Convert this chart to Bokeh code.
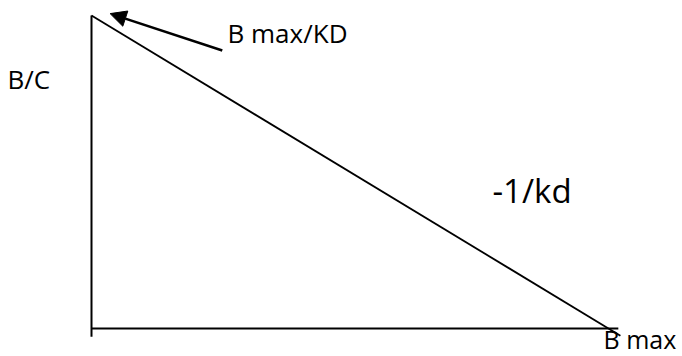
from bokeh.plotting import figure
from bokeh.models import Range1d, Arrow, NormalHead, Label
from bokeh.embed import file_html
from bokeh.resources import INLINE

# Scatchard plot: B/C against B, a straight line falling from Bmax/KD to Bmax
bmax = 1.0            # x-intercept (B max)
bmax_over_kd = 1.0    # y-intercept (B max/KD)
slope = -bmax_over_kd / bmax   # -1/kd
overshoot = 0.023     # the line runs a little past the x-axis

axis_labels = ["B/C", "B max"]
note_labels = ["B max/KD", "-1/kd"]

# pixel scale of the drawing: origin at (91, 328), 517 px per unit in x, 313 px per unit in y
X0, Y0, SX, SY = 91, 328, 517, 313


def px(xp, yp):
    return (xp - X0) / SX, (Y0 - yp) / SY


p = figure(width=682, height=356, output_backend="svg", toolbar_location=None,
           x_range=Range1d(-X0 / SX, (682 - X0) / SX),
           y_range=Range1d(-(356 - Y0) / SY, Y0 / SY),
           min_border=0, x_axis_location=None, y_axis_location=None)
p.outline_line_color = None
p.xgrid.visible = False
p.ygrid.visible = False
p.background_fill_color = "white"
p.border_fill_color = "white"

# axes drawn as plain lines
p.line([0, 0], [bmax_over_kd, -0.026], line_color="black", line_width=2)
p.line([0, bmax * 1.019], [0, 0], line_color="black", line_width=2)

# binding line
x_end = bmax * (1 + overshoot)
p.line([0, x_end], [bmax_over_kd, bmax_over_kd + slope * x_end],
       line_color="black", line_width=1.8)

# arrow pointing at the y-intercept
p.add_layout(Arrow(end=NormalHead(size=16, fill_color="black", line_color="black"),
                   x_start=0.253, y_start=0.888, x_end=0.036, y_end=bmax_over_kd * 1.006,
                   line_color="black", line_width=2.5))

font = "Open Sans"


def label(text, xp, yp, size):
    x, y = px(xp, yp)
    p.add_layout(Label(x=x, y=y, text=text, text_font=font, text_font_size=size,
                       text_baseline="alphabetic", text_color="black"))


label(note_labels[0], 227, 32, "26px")
label(axis_labels[0], 7, 78, "26px")
label(note_labels[1], 492, 190, "33px")
label(axis_labels[1], 603, 338, "25px")

open("out.html", "w").write(file_html(p, INLINE))
